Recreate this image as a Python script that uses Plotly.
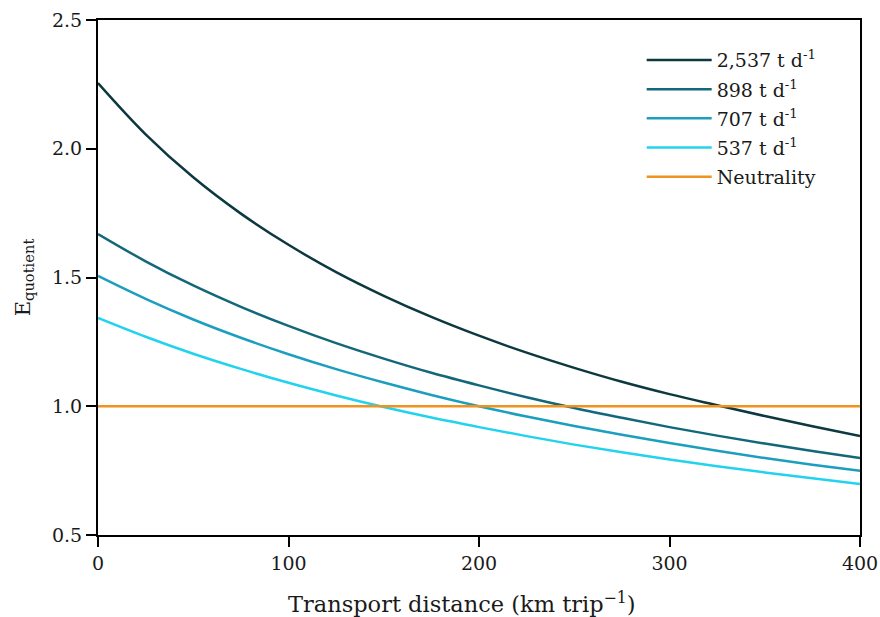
import plotly.graph_objects as go

distance_km = [0, 25, 50, 75, 100, 125, 150, 175, 200, 225, 250, 275, 300, 325, 350, 375, 400]

e_2537 = [2.255, 2.056, 1.889, 1.748, 1.627, 1.521, 1.429, 1.347, 1.274, 1.208, 1.149, 1.095, 1.047, 1.004, 0.962, 0.922, 0.884]
e_898 = [1.669, 1.563, 1.469, 1.386, 1.312, 1.245, 1.185, 1.130, 1.081, 1.035, 0.993, 0.955, 0.919, 0.886, 0.855, 0.826, 0.799]
e_707 = [1.506, 1.417, 1.337, 1.266, 1.202, 1.144, 1.092, 1.044, 1.000, 0.960, 0.923, 0.889, 0.857, 0.827, 0.799, 0.773, 0.749]
e_537 = [1.343, 1.270, 1.204, 1.145, 1.091, 1.042, 0.997, 0.956, 0.919, 0.884, 0.851, 0.821, 0.793, 0.767, 0.743, 0.720, 0.698]
neutrality = [1.0] * len(distance_km)

series_names = ["2,537 t d<sup>-1</sup>", "898 t d<sup>-1</sup>", "707 t d<sup>-1</sup>", "537 t d<sup>-1</sup>", "Neutrality"]
series_values = [e_2537, e_898, e_707, e_537, neutrality]
series_colors = ["#0c3940", "#12687a", "#1c9ebf", "#22d3ee", "#f0921e"]

x_ticks = [0, 100, 200, 300, 400]
y_ticks = [0.5, 1.0, 1.5, 2.0, 2.5]

FONT = "DejaVu Serif"
TXT = "#1a1a1a"

fig = go.Figure()
for i, (name, vals, col) in enumerate(zip(series_names, series_values, series_colors)):
    fig.add_trace(go.Scatter(x=distance_km, y=vals, mode="lines", name=name,
                             legendgroup=f"g{i}",
                             line=dict(color=col, width=2.5, shape="spline")))

fig.update_layout(
    width=880, height=617, autosize=False,
    margin=dict(l=98, r=20, t=20, b=82),
    paper_bgcolor="white", plot_bgcolor="white",
    font=dict(family=FONT, color=TXT, size=19),
    showlegend=True,
    legend=dict(x=0.7135, y=0.959, xanchor="left", yanchor="top",
                bgcolor="rgba(0,0,0,0)", font=dict(family=FONT, size=19, color=TXT),
                itemwidth=65, tracegroupgap=1.5),
    xaxis=dict(range=[0, 400], tickvals=x_ticks, ticktext=[str(v) for v in x_ticks],
               automargin=False,
               showgrid=False, zeroline=False, showline=True, linecolor="black", linewidth=2,
               mirror=True, ticks="outside", ticklen=10, tickwidth=2, tickcolor="black",
               tickfont=dict(family=FONT, size=19, color=TXT)),
    yaxis=dict(range=[0.5, 2.5], tickvals=y_ticks, ticktext=[f"{v:.1f}" for v in y_ticks],
               automargin=False,
               showgrid=False, zeroline=False, showline=True, linecolor="black", linewidth=2,
               mirror=True, ticks="outside", ticklen=10, tickwidth=2, tickcolor="black",
               tickfont=dict(family=FONT, size=19, color=TXT),
               title=dict(text="E<sub>quotient</sub>",
                          font=dict(family=FONT, size=21, color=TXT), standoff=16)),
    annotations=[dict(text="Transport distance (km trip<sup>−1</sup>)",
                      xref="paper", yref="paper", x=0.478, y=-0.132,
                      xanchor="center", yanchor="middle", showarrow=False,
                      font=dict(family=FONT, size=22.5, color=TXT))],
)

fig.write_html("out.html",
               config={"responsive": False, "displayModeBar": False},
               post_script="document.body.style.margin='0';document.body.style.padding='0';")
